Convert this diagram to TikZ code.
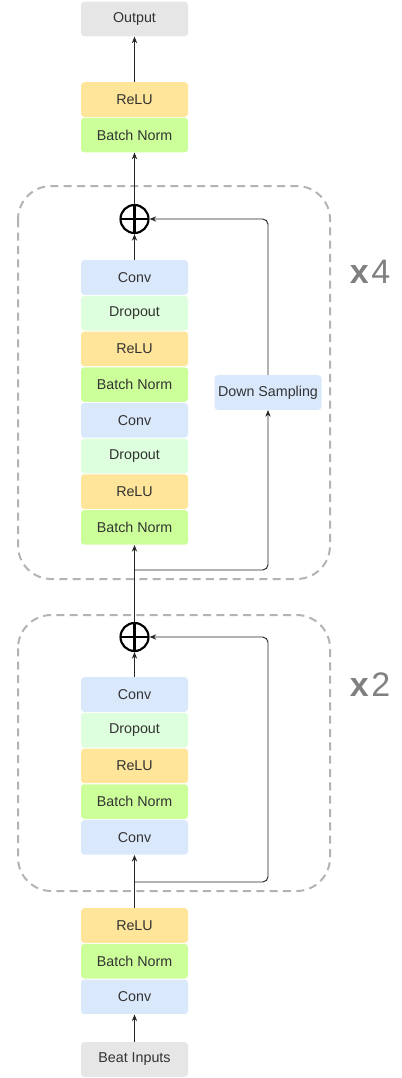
\documentclass[tikz,border=0pt]{standalone}
\usepackage{fontspec}
\setmainfont{Liberation Sans}
\usetikzlibrary{arrows.meta,calc}
\definecolor{convC}{HTML}{DAE8FC}
\definecolor{dropC}{HTML}{DDFFDD}
\definecolor{reluC}{HTML}{FFE599}
\definecolor{bnC}{HTML}{CCFF99}
\definecolor{ioC}{HTML}{E6E6E6}
\definecolor{txtC}{HTML}{333333}
\definecolor{dashC}{HTML}{B3B3B3}
\definecolor{repC}{HTML}{808080}
\tikzset{
  blk/.style={rounded corners=2.5pt, minimum width=80.25pt, minimum height=26pt, inner sep=0pt, text=txtC, font=\fontsize{10.7}{12}\selectfont},
  conv/.style={blk, fill=convC},
  drop/.style={blk, fill=dropC},
  relu/.style={blk, fill=reluC},
  bnorm/.style={blk, fill=bnC},
  io/.style={blk, fill=ioC},
  addop/.style={circle, draw, line width=1.6pt, minimum size=21pt, inner sep=0pt,
    path picture={\draw[line width=1.6pt] (path picture bounding box.north) -- (path picture bounding box.south)
      (path picture bounding box.west) -- (path picture bounding box.east);}},
  link/.style={-{Stealth[length=5pt,width=4pt]}, line width=0.7pt, draw=black!85},
  repbox/.style={draw=dashC, line width=1.5pt, dash pattern={on 6pt off 4pt}, rounded corners=25pt},
  reps/.style={text=repC, font=\fontsize{25.5}{28}\selectfont, inner sep=0pt}
}
\begin{document}
\begin{tikzpicture}[x=0.75pt,y=0.75pt,yscale=-1,xscale=1]
\useasboundingbox (0,0) rectangle (401,1078);
% repeated blocks
\draw [repbox] (18,186) rectangle (330,579);
\draw [repbox] (18,615) rectangle (330,891);
\node [reps] (rep4) at (370,272) {\textbf{x}\kern2pt4};
\node [reps] (rep2) at (370,685) {\textbf{x}\kern2pt2};
% top
\node [io] (output) at (134.5,19) {Output};
\node [relu] (reluout) at (134.5,99.5) {ReLU};
\node [bnorm] (bnout) at (134.5,135) {Batch Norm};
% upper residual block
\node [addop] (add1) at (134.5,219) {};
\node [conv] (convA) at (134.5,277.5) {Conv};
\node [drop] (dropA) at (134.5,313.2) {Dropout};
\node [relu] (reluA) at (134.5,348.9) {ReLU};
\node [bnorm] (bnA) at (134.5,384.6) {Batch Norm};
\node [conv] (convB) at (134.5,420.3) {Conv};
\node [drop] (dropB) at (134.5,456) {Dropout};
\node [relu] (reluB) at (134.5,491.7) {ReLU};
\node [bnorm] (bnB) at (134.5,527.4) {Batch Norm};
\node [conv] (down) at (268,392.5) {Down Sampling};
\coordinate (split1) at (134.5,570);
% lower residual block
\node [addop] (add2) at (134.5,637) {};
\node [conv] (convC) at (134.5,694.5) {Conv};
\node [drop] (dropC) at (134.5,730.2) {Dropout};
\node [relu] (reluC) at (134.5,765.9) {ReLU};
\node [bnorm] (bnC) at (134.5,801.6) {Batch Norm};
\node [conv] (convD) at (134.5,837.3) {Conv};
\coordinate (split2) at (134.5,882);
\coordinate (turn2) at (268,637);
% input stem
\node [relu] (reluin) at (134.5,925.5) {ReLU};
\node [bnorm] (bnin) at (134.5,961.2) {Batch Norm};
\node [conv] (convin) at (134.5,996.9) {Conv};
\node [io] (input) at (134.5,1059.5) {Beat Inputs};
% connectors
\draw [link] (input) -- (convin);
\draw [link] (reluin) -- (convD);
\draw [link] (convC) -- (add2);
\draw [link, rounded corners=4pt] (split2) -| (turn2) -- (add2);
\draw [link] (add2) -- (bnB);
\draw [link, rounded corners=4pt] (split1) -| (down);
\draw [link, rounded corners=4pt] (down) |- (add1);
\draw [link] (convA) -- (add1);
\draw [link] (add1) -- (bnout);
\draw [link] (reluout) -- (output);
\end{tikzpicture}
\end{document}
